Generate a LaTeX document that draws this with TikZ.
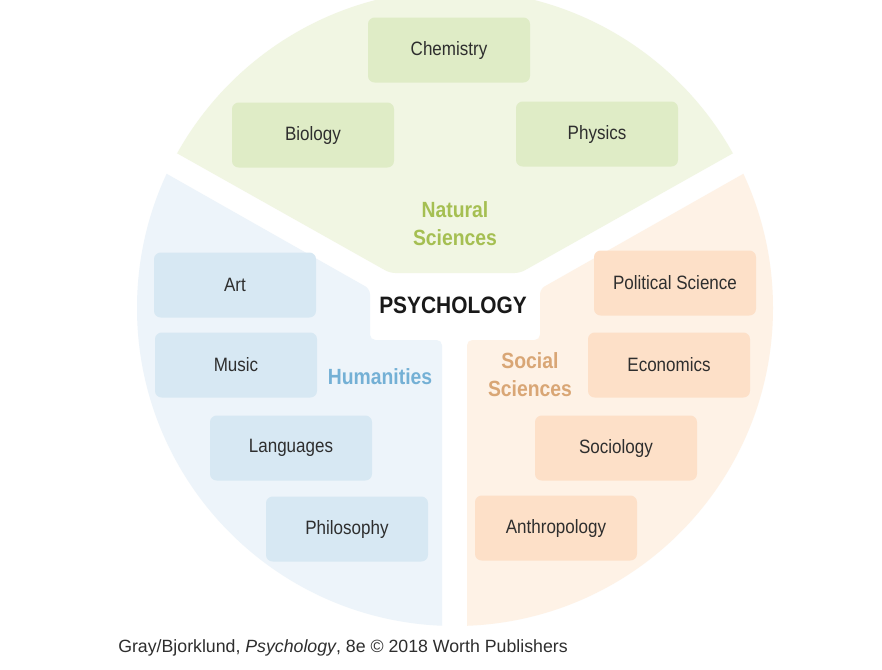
\documentclass[tikz,border=0pt]{standalone}
\usepackage{fontspec}
\setmainfont{Liberation Sans}
\newfontfamily\condfont{Liberation Sans}[FakeStretch=0.88]
\definecolor{natural}{HTML}{F1F6E3}
\definecolor{naturalbox}{HTML}{DFECC6}
\definecolor{naturalink}{HTML}{A5BF52}
\definecolor{humanities}{HTML}{EDF4FA}
\definecolor{humanitiesbox}{HTML}{D7E8F3}
\definecolor{humanitiesink}{HTML}{74B0D5}
\definecolor{social}{HTML}{FEF2E6}
\definecolor{socialbox}{HTML}{FDE0C8}
\definecolor{socialink}{HTML}{D9A675}
\definecolor{ink}{HTML}{2E2E2E}

\begin{document}
\begin{tikzpicture}[
  x=.75pt,y={(0pt,-.75pt)},
  field/.style={rounded corners=5pt,minimum width=121.5pt,minimum height=48.75pt,
    inner sep=0pt,text=ink,font=\condfont\fontsize{14.5}{17}\selectfont},
  natfield/.style={field,fill=naturalbox},
  humfield/.style={field,fill=humanitiesbox},
  socfield/.style={field,fill=socialbox},
  group/.style={align=center,font=\condfont\bfseries\fontsize{16.5}{21}\selectfont},
  sector/.style={rounded corners=4pt}
]
\path[use as bounding box,fill=white] (0,0) rectangle (882,669);

% Three sectors cut out of one disc; the white gaps form a Y round the centre box.
\begin{scope}
  \clip (455,308) circle[radius=238.5pt];
  \fill[sector,natural] (100,-20) -- (100,110) -- (390,273) -- (520,273)
    -- (810,110) -- (810,-20) -- cycle;
  \fill[sector,humanities] (100,136) -- (370,289) -- (370,340) -- (442,340)
    -- (442,700) -- (100,700) -- cycle;
  \fill[sector,social] (810,136) -- (540,289) -- (540,340) -- (467,340)
    -- (467,700) -- (810,700) -- cycle;
\end{scope}

% Natural sciences
\node[natfield] (chem) at (449,50) {Chemistry};
\node[natfield] (bio) at (313,135) {Biology};
\node[natfield] (phys) at (597,134) {Physics};
\node[group,text=naturalink] (natlabel) at (455,224) {Natural\\Sciences};

% Humanities
\node[humfield] (art) at (235,285) {Art};
\node[humfield] (music) at (236,365) {Music};
\node[humfield] (lang) at (291,448) {Languages};
\node[humfield] (philo) at (347,529) {Philosophy};
\node[group,text=humanitiesink] (humlabel) at (380,377) {Humanities};

% Social sciences
\node[socfield] (polsci) at (675,283) {Political Science};
\node[socfield] (econ) at (669,365) {Economics};
\node[socfield] (socio) at (616,448) {Sociology};
\node[socfield] (anthro) at (556,528) {Anthropology};
\node[group,text=socialink] (soclabel) at (530,375) {Social\\Sciences};

\node[font=\condfont\bfseries\fontsize{17.8}{20}\selectfont,text=black!90] (psych) at (453,305) {PSYCHOLOGY};

\node[anchor=west,inner sep=0pt,text=ink,font=\fontsize{13.3}{15}\selectfont] (credit) at (118,648)
  {Gray/Bjorklund, \textit{Psychology}, 8e © 2018 Worth Publishers};
\end{tikzpicture}
\end{document}
